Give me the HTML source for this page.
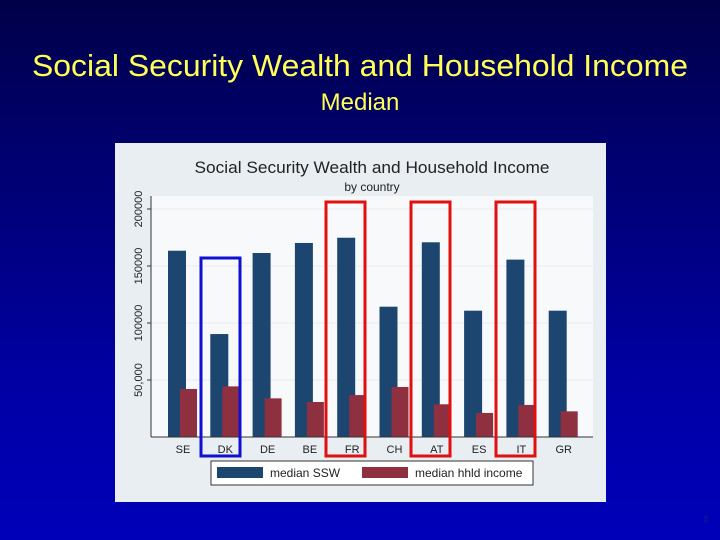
<!DOCTYPE html>
<html><head><meta charset="utf-8"><style>
body{margin:0;width:720px;height:540px;overflow:hidden;background:linear-gradient(#000048,#000070 30%,#0000a8 75%,#0000b8);font-family:"Liberation Sans",sans-serif}
svg{display:block}
</style></head><body>
<svg width="720" height="540">
<text x="360" y="76" text-anchor="middle" font-size="31" fill="#ffff55" textLength="656" lengthAdjust="spacingAndGlyphs">Social Security Wealth and Household Income</text>
<text x="360" y="110" text-anchor="middle" font-size="24" fill="#ffff55">Median</text>
<text x="706" y="522" text-anchor="middle" font-size="9" fill="#1a1a90">8</text>
<rect x="115" y="143" width="491" height="359" fill="#e9eef2"/>
<rect x="151" y="196" width="442" height="241" fill="#f8f9fb"/>
<text x="372" y="173" text-anchor="middle" font-size="17" fill="#222" textLength="355" lengthAdjust="spacingAndGlyphs">Social Security Wealth and Household Income</text>
<text x="372" y="191" text-anchor="middle" font-size="12" fill="#222">by country</text>
<g id="chart"></g>
<line x1="151" y1="196" x2="151" y2="437" stroke="#333" stroke-width="1"/>
<line x1="151" y1="437" x2="593" y2="437" stroke="#333" stroke-width="1"/>
<rect x="201" y="258" width="39" height="198" fill="none" stroke="#1010d0" stroke-width="3"/>
<rect x="326" y="202" width="39" height="254" fill="none" stroke="#e01010" stroke-width="3"/>
<rect x="411" y="202" width="39" height="254" fill="none" stroke="#e01010" stroke-width="3"/>
<rect x="496" y="202" width="39" height="254" fill="none" stroke="#e01010" stroke-width="3"/>
<g>
<rect x="211" y="461" width="322" height="24" fill="#fff" stroke="#333"/>
<rect x="217" y="467" width="46" height="11" fill="#1c4670"/>
<text x="270" y="477" font-size="12" fill="#222">median SSW</text>
<rect x="362" y="467" width="46" height="11" fill="#8f3040"/>
<text x="415" y="477" font-size="12" fill="#222">median hhld income</text>
</g>
</svg>
<script>
const categories=["SE","DK","DE","BE","FR","CH","AT","ES","IT","GR"];
const ssw=[163400,90300,161400,170200,174800,114300,170800,110800,155600,110800];
const income=[42100,44400,33900,30700,36800,43900,28700,21100,28100,22500];
const yTicks=[50000,100000,150000,200000];
const yTickLabels=["50,000","100000","150000","200000"];
const NS="http://www.w3.org/2000/svg";
const g=document.getElementById('chart');
function y(v){return 437-v*228/200000;}
function x(i){return 168+i*42.3;}
function mk(t,a){const e=document.createElementNS(NS,t);for(const k in a)e.setAttribute(k,a[k]);g.appendChild(e);return e;}
yTicks.forEach((v,i)=>{
 const l=mk('line',{x1:151,x2:593,y1:y(v),y2:y(v),stroke:'#e8ecf0','stroke-width':1});
 
 
 const tk=mk('line',{x1:147,x2:151,y1:y(v),y2:y(v),stroke:'#333'});
 
 
 const t=mk('text',{x:0,y:0,'font-size':11,fill:'#222','text-anchor':'middle',transform:`translate(142,${y(v)}) rotate(-90)`});
 t.textContent=yTickLabels[i];
 
 
});
categories.forEach((c,i)=>{
 const b=mk('rect',{x:x(i),y:y(ssw[i]),width:18,height:437-y(ssw[i]),fill:'#1c4670'});
 
 
 const r=mk('rect',{x:x(i)+12,y:y(income[i]),width:17,height:437-y(income[i]),fill:'#8f3040'});
 
 
 const t=mk('text',{x:x(i)+15,y:453,'font-size':11,fill:'#222','text-anchor':'middle'});
 t.textContent=c;
 
 
});
</script>
</body></html>
